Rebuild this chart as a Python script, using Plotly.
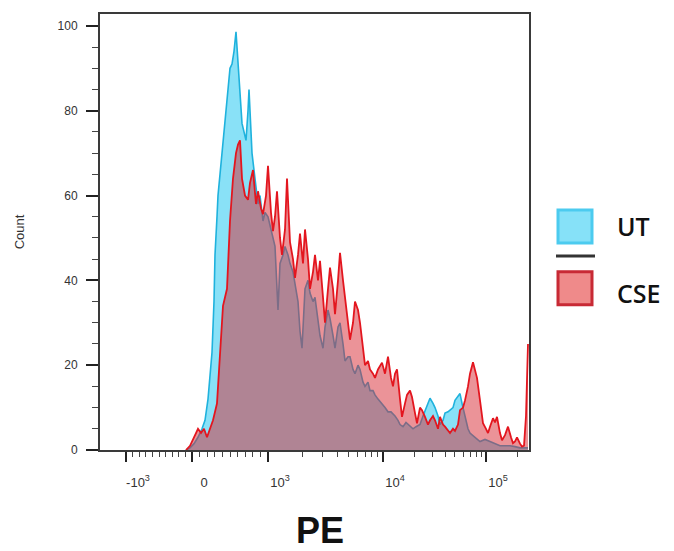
import math
import plotly.graph_objects as go

# ---------------- data ----------------
series_names = ["UT", "CSE"]

# x = display channel on the biexponential PE axis (0 = left edge of the plot)
ut_channel = [86, 90, 94, 98, 102, 105, 108, 110, 112, 114, 115, 117, 118, 120, 122, 124, 127, 129, 130, 132,
              134, 136, 137, 138, 140, 142, 144, 146, 148, 149, 151, 152, 154, 156, 158, 160, 163, 165, 168, 170,
              173, 175, 178, 180, 183, 185, 188, 190, 193, 195, 198, 200, 202, 205, 208, 210, 213, 215, 218, 220,
              223, 225, 228, 230, 233, 235, 238, 240, 243, 245, 248, 250, 253, 255, 258, 260, 263, 265, 268, 270,
              273, 275, 278, 282, 285, 288, 291, 295, 298, 300, 303, 306, 310, 313, 316, 320, 323, 326, 328, 330,
              333, 335, 338, 340, 343, 345, 348, 350, 353, 355, 358, 360, 362, 365, 368, 370, 373, 375, 380, 385,
              390, 395, 400, 405, 410, 415, 420, 425, 428]
ut_count = [0, 0.5, 1.5, 3, 5, 7, 12, 18, 23, 35, 46, 55, 60, 65, 70, 76, 82, 87, 90, 91,
            94, 98.6, 95, 89, 84, 77, 75, 73, 80, 85, 75, 70, 66, 62, 58, 60, 54, 56, 55, 53,
            50, 48, 33, 44, 46, 48, 46, 44, 42, 39, 35, 28, 24, 38, 40, 37, 35, 36, 31, 27,
            24, 29, 33, 31, 27, 24, 29, 30, 25, 21, 22, 22, 19, 18, 20, 19, 16, 15, 16, 14,
            14, 13, 12, 11, 10, 9, 9, 8, 7, 6, 5.5, 6.5, 5.5, 5, 5.5, 6, 8, 10, 11, 12.2,
            11, 10, 8, 6, 7, 8.7, 9, 9.4, 10, 11.7, 12.5, 13.3, 11, 8, 5, 4, 3.5, 3, 2, 2.5,
            2, 1.5, 1, 1, 1, 0.8, 0.5, 0.5, 0.5]

cse_channel = [86, 90, 94, 98, 101, 104, 107, 110, 113, 117, 120, 123, 127, 130, 133, 136, 138, 140, 142, 145,
               148, 150, 153, 156, 158, 161, 163, 166, 168, 171, 173, 175, 177, 180, 182, 185, 187, 189, 190, 193,
               195, 198, 200, 203, 205, 208, 210, 213, 215, 218, 220, 223, 225, 228, 230, 233, 235, 238, 240, 243,
               245, 248, 250, 253, 255, 258, 260, 263, 265, 268, 270, 273, 275, 278, 282, 285, 288, 291, 293, 295,
               297, 300, 302, 305, 307, 310, 312, 315, 317, 320, 322, 325, 328, 330, 333, 335, 338, 340, 343, 345,
               348, 350, 353, 355, 358, 360, 363, 365, 368, 370, 373, 375, 377, 380, 383, 386, 388, 390, 393, 395,
               397, 400, 402, 405, 408, 411, 413, 415, 417, 420, 422, 424, 426, 428]
cse_count = [0, 1, 3, 5, 4, 5, 3, 5, 7, 11, 22, 34, 38, 54, 64, 70, 72, 73, 64, 60,
             59, 63, 66, 58, 61, 57, 55.6, 60, 67, 56, 51.6, 55, 61, 50, 46, 52, 64, 55, 49, 45,
             40.6, 46, 51, 44, 52, 45, 38, 42, 46, 40, 44.6, 36, 30, 38, 43, 38, 32, 40, 46.5, 40,
             36, 30, 26, 30, 35, 33, 30, 24, 20, 21, 19, 18, 17, 19, 20.6, 18, 22, 17, 15, 18,
             19, 12, 7.8, 11, 13, 14, 12.5, 8.7, 6.3, 10, 9.4, 7.8, 6, 7, 8, 7, 5, 7.8, 6, 5.5,
             4.5, 4, 5, 4.5, 6, 9.4, 10, 11.7, 15, 18, 20.7, 19, 17, 11.7, 6.3, 5, 4, 5.5, 7.5, 6.5,
             7.8, 4, 2.3, 3.5, 5.5, 3, 1.6, 2, 3, 1.5, 0.8, 1, 8, 25]

# axis scale: PE value -> display channel (biexponential display)
anchor_pe = [-1000, 0, 1000, 10000, 100000]
anchor_channel = [26, 92, 168, 283, 386]
major_labels = ["-10<sup>3</sup>", "0", "10<sup>3</sup>", "10<sup>4</sup>", "10<sup>5</sup>"]
minor_pe = ([-900, -800, -700, -600, -500, -400, -300, -200, -100] +
            [100, 200, 300, 400, 500, 600, 700, 800, 900] +
            [2000, 3000, 4000, 5000, 6000, 7000, 8000, 9000] +
            [20000, 30000, 40000, 50000, 60000, 70000, 80000, 90000] +
            [200000])
x_range = [0, 429]
y_range = [0, 102.8]
y_major = [0, 20, 40, 60, 80, 100]


def pe_to_channel(v):
    if v <= anchor_pe[2]:
        for i in range(2):
            a, b = anchor_pe[i], anchor_pe[i + 1]
            if v <= b or i == 1:
                t = (v - a) / (b - a)
                return anchor_channel[i] + t * (anchor_channel[i + 1] - anchor_channel[i])
    for i in range(2, 4):
        a, b = anchor_pe[i], anchor_pe[i + 1]
        if v <= b or i == 3:
            t = math.log10(v / a) / math.log10(b / a)
            return anchor_channel[i] + t * (anchor_channel[i + 1] - anchor_channel[i])


major_vals = [pe_to_channel(v) for v in anchor_pe]
minor_vals = [pe_to_channel(v) for v in minor_pe]

# ---------------- styles ----------------
ut_line = "#1fb2dd"
ut_fill = "rgba(40,200,240,0.55)"
cse_line = "#e3161f"
cse_fill = "rgba(215,40,50,0.5)"

fig = go.Figure()
fig.add_trace(go.Scatter(x=ut_channel, y=ut_count, name=series_names[0], mode="lines",
                         line=dict(color=ut_line, width=1.6), fill="tozeroy", fillcolor=ut_fill,
                         showlegend=False))
fig.add_trace(go.Scatter(x=cse_channel, y=cse_count, name=series_names[1], mode="lines",
                         line=dict(color=cse_line, width=1.8), fill="tozeroy", fillcolor=cse_fill,
                         showlegend=False))

# the page places the figure 8px from the top-left corner; size it to fill the window
OFF = 8
W, H = 674 - OFF, 551 - OFF
ml, mr, mt, mb = 100 - OFF, 145, 12 - OFF, 101
pw, ph = W - ml - mr, H - mt - mb
PLOT_LEFT, PLOT_BOTTOM = 100, 450   # window pixel position of the plot's corner


def px(xp):
    return (xp - PLOT_LEFT) / pw


def py(yp):
    return (PLOT_BOTTOM - yp) / ph


tick_font = dict(family="Liberation Sans, Arial, sans-serif", size=12, color="#333333")
xtick_font = dict(family="Liberation Sans, Arial, sans-serif", size=13, color="#333333")

fig.update_layout(
    width=W, height=H, autosize=False,
    margin=dict(l=ml, r=mr, t=mt, b=mb),
    paper_bgcolor="white", plot_bgcolor="white",
    xaxis=dict(range=x_range, showgrid=False, zeroline=False,
               showline=True, linecolor="#3a3a3a", linewidth=2, mirror=True,
               tickmode="array", tickvals=major_vals, ticktext=major_labels,
               ticks="outside", ticklen=10, tickwidth=2, tickcolor="#222222",
               ticklabelshift=12, ticklabelstandoff=9, tickfont=xtick_font,
               minor=dict(tickmode="array", tickvals=minor_vals, ticks="outside",
                          ticklen=5, tickwidth=1, tickcolor="#444444")),
    yaxis=dict(range=y_range, showgrid=False, zeroline=False,
               showline=True, linecolor="#3a3a3a", linewidth=2, mirror=True,
               tickmode="array", tickvals=y_major,
               ticks="outside", ticklen=12, tickwidth=2, tickcolor="#222222",
               ticklabelstandoff=6, tickfont=tick_font,
               minor=dict(dtick=5, ticks="outside", ticklen=6, tickwidth=1, tickcolor="#444444"),
               title=dict(text="Count", standoff=30,
                          font=dict(family="Liberation Sans, Arial, sans-serif", size=13, color="#333333"))),
)

# x axis label
fig.add_annotation(text="PE", x=px(320), y=py(531), xref="paper", yref="paper",
                   showarrow=False, xanchor="center", yanchor="middle",
                   font=dict(family="Liberation Sans, Arial, sans-serif", size=36, color="#111111", weight="bold"))

# legend (drawn as boxes + text)
legend_font = dict(family="Open Sans, sans-serif", size=25, color="#111111", weight=600)
fig.add_shape(type="rect", xref="paper", yref="paper", x0=px(558), x1=px(592), y0=py(242), y1=py(209),
              line=dict(color="#4ccbef", width=3), fillcolor="#86e1f8")
fig.add_shape(type="line", xref="paper", yref="paper", x0=px(556), x1=px(595), y0=py(255), y1=py(255),
              line=dict(color="#333333", width=3))
fig.add_shape(type="rect", xref="paper", yref="paper", x0=px(558), x1=px(592), y0=py(304), y1=py(271),
              line=dict(color="#c82a35", width=3), fillcolor="#ef8a8a")
fig.add_annotation(text=series_names[0], x=px(615), y=py(225), xref="paper", yref="paper",
                   showarrow=False, xanchor="left", yanchor="middle", font=legend_font)
fig.add_annotation(text=series_names[1], x=px(615), y=py(292), xref="paper", yref="paper",
                   showarrow=False, xanchor="left", yanchor="middle", font=legend_font)

fig.write_html("out.html")
